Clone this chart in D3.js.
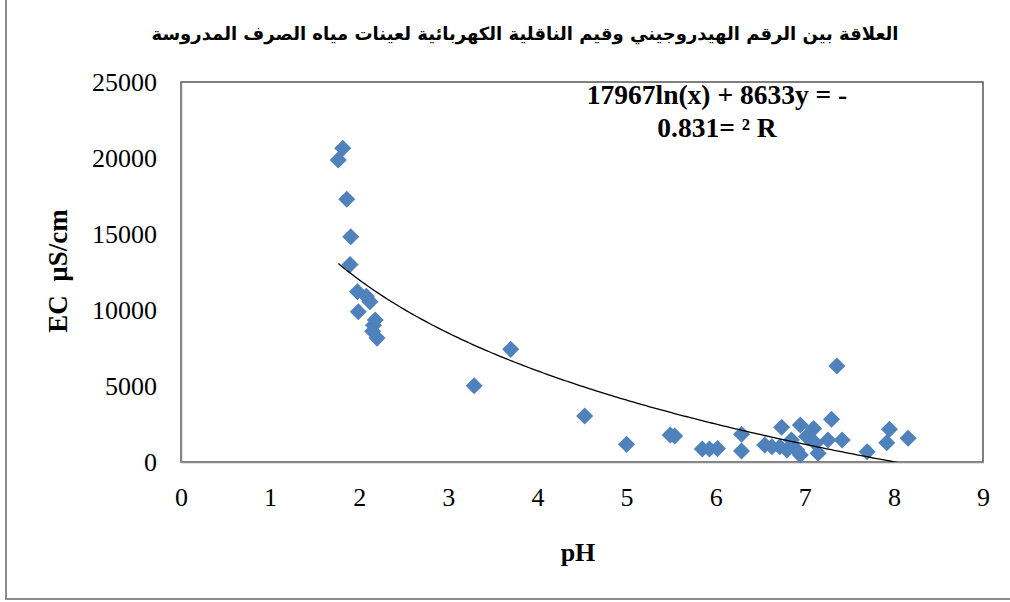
<!DOCTYPE html>
<html>
<head>
<meta charset="utf-8">
<script src="https://cdn.jsdelivr.net/npm/d3@7/dist/d3.min.js"></script>
<style>
  html, body { margin: 0; padding: 0; background: #fff; }
  svg { display: block; }
</style>
</head>
<body>
<svg id="chart" width="1010" height="602"></svg>
<script>
// Samples: pH and electrical conductivity (µS/cm)
const pH = [1.815, 1.765, 1.86, 1.905, 1.897, 1.98, 2.08, 2.12, 1.99, 2.16, 2.18, 2.15, 2.2,
  3.29, 3.70, 4.53, 5.00, 5.49, 5.54, 5.85, 5.93, 6.02, 6.29, 6.29, 6.55, 6.63, 6.74, 6.72,
  6.80, 6.85, 6.95, 6.91, 6.95, 7.02, 7.10, 7.12, 7.15, 7.26, 7.30, 7.36, 7.42, 7.70, 7.92,
  7.95, 8.16];
const EC = [20640, 19870, 17280, 14820, 13000, 11200, 10900, 10550, 9890, 9000, 9340, 8600,
  8150, 5020, 7410, 3030, 1160, 1780, 1710, 850, 850, 880, 1820, 720, 1120, 1010, 2280, 1010,
  790, 1450, 2430, 790, 460, 1670, 2210, 1230, 570, 1450, 2810, 6320, 1450, 680, 1270, 2150,
  1560];

const xTicks = [0, 1, 2, 3, 4, 5, 6, 7, 8, 9];
const yTicks = [0, 5000, 10000, 15000, 20000, 25000];

// Logarithmic trend: EC = a * ln(pH) + b
const trendA = -8633;
const trendB = 17967;
const equationLines = ["17967ln(x) + 8633y = -", "0.831= ² R"];

const title = "العلاقة بين الرقم الهيدروجيني وقيم الناقلية الكهربائية لعينات مياه الصرف المدروسة";
const xTitle = "pH";
const yTitle = "EC  µS/cm";

const svg = d3.select("#chart");
const plot = { left: 181, top: 82, right: 983, bottom: 462 };

const x = d3.scaleLinear().domain([0, 9]).range([plot.left, plot.right]);
const y = d3.scaleLinear().domain([0, 25000]).range([plot.bottom, plot.top]);

const serif = "'Liberation Serif', 'Times New Roman', serif";

// Outer frame (left and bottom edges)
svg.append("path")
  .attr("d", `M6,0 V599 H1010`)
  .attr("fill", "none").attr("stroke", "#8c8c8c").attr("stroke-width", 2);

// Title
svg.append("text")
  .attr("x", 525).attr("y", 40)
  .attr("text-anchor", "middle")
  .attr("direction", "rtl")
  .attr("font-family", "'DejaVu Sans', sans-serif")
  .attr("font-weight", "bold").attr("font-size", 18)
  .attr("fill", "#000")
  .text(title);

// Plot area border
svg.append("rect")
  .attr("x", plot.left).attr("y", plot.top)
  .attr("width", plot.right - plot.left).attr("height", plot.bottom - plot.top)
  .attr("fill", "none").attr("stroke", "#555").attr("stroke-width", 1.5);

// Axes (no tick marks, gray axis lines)
const xAxis = d3.axisBottom(x).tickValues(xTicks).tickSize(0).tickPadding(26).tickFormat(d3.format("d"));
const yAxis = d3.axisLeft(y).tickValues(yTicks).tickSize(0).tickPadding(24).tickFormat(d3.format("d"));

const gx = svg.append("g").attr("transform", `translate(0,${plot.bottom})`).call(xAxis);
const gy = svg.append("g").attr("transform", `translate(${plot.left},0)`).call(yAxis);
[gx, gy].forEach(g => {
  g.select(".domain").attr("stroke", "#8c8c8c").attr("stroke-width", 1.5);
  g.selectAll("text").attr("font-family", serif).attr("font-size", 26).attr("fill", "#000");
});

// Axis titles
svg.append("text")
  .attr("x", 578).attr("y", 561)
  .attr("text-anchor", "middle")
  .attr("font-family", serif).attr("font-weight", "bold").attr("font-size", 26)
  .text(xTitle);

svg.append("text")
  .attr("transform", `translate(67,271) rotate(-90)`)
  .attr("text-anchor", "middle")
  .attr("font-family", serif).attr("font-weight", "bold").attr("font-size", 27)
  .style("white-space", "pre")
  .text(yTitle);

// Clip for trend line
svg.append("clipPath").attr("id", "plotClip")
  .append("rect")
  .attr("x", plot.left).attr("y", plot.top)
  .attr("width", plot.right - plot.left).attr("height", plot.bottom - plot.top);

// Data points (diamonds)
const diamond = d3.symbol().type(d3.symbolDiamond2).size(185);
svg.append("g").selectAll("path")
  .data(d3.zip(pH, EC))
  .join("path")
  .attr("transform", d => `translate(${x(d[0])},${y(d[1])})`)
  .attr("d", diamond)
  .attr("fill", "#4F81BD");

// Trend line from min to max pH
const [xMin, xMax] = d3.extent(pH);
const trendPts = d3.range(0, 201).map(i => {
  const xv = xMin + (xMax - xMin) * i / 200;
  return [xv, trendA * Math.log(xv) + trendB];
});
svg.append("path")
  .datum(trendPts)
  .attr("clip-path", "url(#plotClip)")
  .attr("fill", "none").attr("stroke", "#000").attr("stroke-width", 1.3)
  .attr("d", d3.line().x(d => x(d[0])).y(d => y(d[1])));

// Trend equation label
svg.append("text")
  .attr("x", 717).attr("y", 104)
  .attr("text-anchor", "middle")
  .attr("font-family", serif).attr("font-weight", "bold").attr("font-size", 27.5)
  .attr("direction", "ltr").style("unicode-bidi", "bidi-override")
  .text(equationLines[0]);
svg.append("text")
  .attr("x", 717).attr("y", 137)
  .attr("text-anchor", "middle")
  .attr("font-family", serif).attr("font-weight", "bold").attr("font-size", 27.5)
  .attr("direction", "ltr").style("unicode-bidi", "bidi-override")
  .text(equationLines[1]);
</script>
</body>
</html>
